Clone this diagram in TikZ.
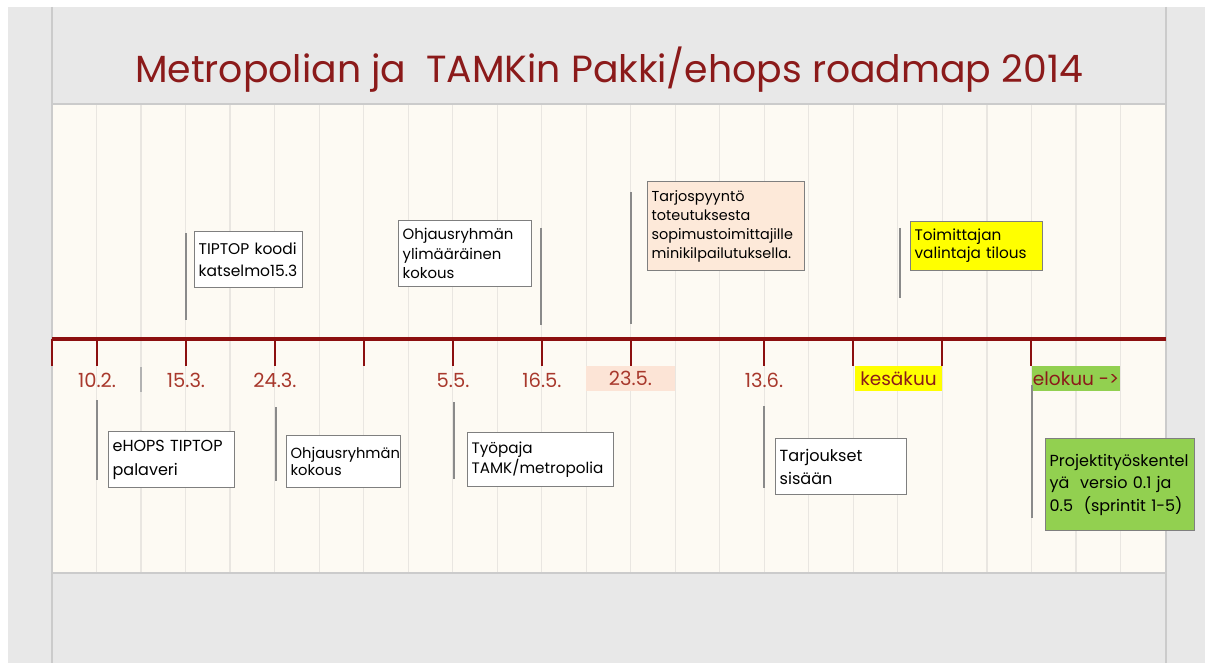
\documentclass[tikz,border=0pt]{standalone}
\usepackage{fontspec}
\setmainfont{Poppins}
\usetikzlibrary{calc}
\definecolor{hdr}{HTML}{E8E8E8}
\definecolor{cream}{HTML}{FDFAF3}
\definecolor{gridc}{HTML}{E9E6E1}
\definecolor{edgec}{HTML}{CBCBCB}
\definecolor{tl}{HTML}{8C0F0F}
\definecolor{titlec}{HTML}{8B1A1A}
\definecolor{datec}{HTML}{A8382C}
\definecolor{boxedge}{HTML}{7F7F7F}
\definecolor{peach}{HTML}{FCE4D6}
\definecolor{peachbox}{HTML}{FDE9D9}
\definecolor{yel}{HTML}{FFFF00}
\definecolor{grn}{HTML}{92D050}
\definecolor{conn}{HTML}{8A8A8A}
\tikzset{
  datelbl/.style={text=datec, font=\fontsize{19.5}{21}\selectfont, inner sep=0pt, minimum height=25pt, minimum width=89pt},
  evbox/.style={draw=boxedge, line width=1.3pt, fill=white, anchor=north west, align=left, inner xsep=4pt, inner ysep=2pt, text=black},
  stem/.style={draw=conn, line width=1.6pt},
  tick/.style={draw=tl, line width=2.6pt},
}
\begin{document}
\begin{tikzpicture}[x=1pt,y=-1pt]
\useasboundingbox (0,0) rectangle (1205,663);
\fill[white] (0,0) rectangle (1205,663);
\fill[hdr] (8,7) rectangle (1205,663);
\fill[cream] (52,104) rectangle (1166,573);
\foreach \i in {1,...,24} \draw[gridc, line width=1.2pt] ({52+44.52*\i},104) -- ++(0,469);
\draw[gray!60, line width=1.2pt] (141,367) -- (141,392);
\draw[edgec, line width=1.2pt] (52,104) -- (1166,104);
\draw[edgec, line width=2pt] (52,573) -- (1166,573);
\draw[edgec, line width=1.2pt] (52,7) -- (52,663);
\draw[edgec, line width=1.2pt] (1166,7) -- (1166,663);

% title
\node[text=titlec, font=\fontsize{37.8}{42}\selectfont] (title) at (609,70) {Metropolian ja\ \ TAMKin Pakki/ehops roadmap 2014};

% timeline
\coordinate (tlA) at (52,339);
\coordinate (tlB) at (1166,339);
\draw[tl, line width=3.2pt] (tlA) -- (tlB);
\foreach \x in {52,97,186,275,364,453,542,631,764,853,942,1031} \draw[tick] (\x,339) -- (\x,366);

% date labels
\node[datelbl] (d1) at (97,380) {10.2.};
\node[datelbl] (d2) at (186,380) {15.3.};
\node[datelbl] (d3) at (275,380) {24.3.};
\node[datelbl] (d4) at (453,380) {5.5.};
\node[datelbl] (d5) at (542,380) {16.5.};
\node[datelbl, fill=peach] (d6) at (630.5,378.5) {23.5.};
\node[datelbl] (d7) at (764,380) {13.6.};
\node[datelbl, fill=yel, text=titlec, minimum width=87pt, font=\fontsize{18.5}{20}\selectfont] (d8) at (898.5,378.5) {kesäkuu};
\node[datelbl, fill=grn, text=titlec, minimum width=88pt, font=\fontsize{18.5}{20}\selectfont] (d9) at (1076,378.5) {elokuu ->};

% boxes above
\node[evbox, text width=100pt, minimum height=56pt, font=\fontsize{15.5}{22}\selectfont] (b1) at (194,231) {TIPTOP koodi\\katselmo15.3};
\node[evbox, text width=125pt, minimum height=66pt, font=\fontsize{14.9}{19.5}\selectfont] (b2) at (398,220) {Ohjausryhmän\\ylimääräinen\\kokous};
\node[evbox, fill=peachbox, text width=149pt, minimum height=89pt, font=\fontsize{14.4}{19}\selectfont] (b3) at (647,181) {Tarjospyyntö\\toteutuksesta\\sopimustoimittajille\\minikilpailutuksella.};
\node[evbox, fill=yel, text width=124pt, minimum height=49pt, font=\fontsize{15.3}{18}\selectfont] (b4) at (910,221) {Toimittajan\\valintaja tilous};

% boxes below
\node[evbox, text width=118pt, minimum height=56pt, font=\fontsize{16}{24}\selectfont] (b5) at (108,431) {eHOPS TIPTOP\\palaveri};
\node[evbox, text width=106pt, minimum height=52pt, font=\fontsize{14.7}{17.5}\selectfont] (b6) at (286,435) {Ohjausryhmän\\kokous};
\node[evbox, text width=138pt, minimum height=54pt, font=\fontsize{15.2}{18}\selectfont] (b7) at (467,432) {Työpaja\\TAMK/metropolia};
\node[evbox, text width=123pt, minimum height=56pt, font=\fontsize{16.1}{23}\selectfont] (b8) at (775,438) {Tarjoukset\\sisään};
\node[evbox, fill=grn, text width=141pt, minimum height=92pt, font=\fontsize{16}{22.5}\selectfont] (b9) at (1045,438) {Projektityöskentel\\yä\ \ versio 0.1 ja\\0.5\ \ (sprintit 1-5)};

% stems
\coordinate (s1a) at (186,233); \coordinate (s1b) at (186,320);
\coordinate (s2a) at (541,228); \coordinate (s2b) at (541,325);
\coordinate (s3a) at (631,192); \coordinate (s3b) at (631,324);
\coordinate (s4a) at (900,228); \coordinate (s4b) at (900,298);
\coordinate (s5a) at (97,400); \coordinate (s5b) at (97,480);
\coordinate (s6a) at (276,407); \coordinate (s6b) at (276,481);
\coordinate (s7a) at (454,402); \coordinate (s7b) at (454,479);
\coordinate (s8a) at (764,406); \coordinate (s8b) at (764,488);
\coordinate (s9a) at (1032,385); \coordinate (s9b) at (1032,518);
\foreach \s in {1,...,9} \draw[stem] (s\s a) -- (s\s b);
\end{tikzpicture}
\end{document}
